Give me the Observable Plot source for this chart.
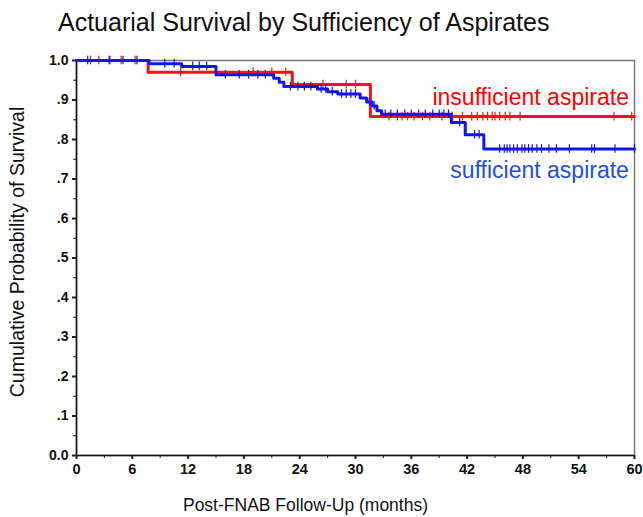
<!DOCTYPE html>
<html>
<head>
<meta charset="utf-8">
<script src="https://cdn.jsdelivr.net/npm/d3@7"></script>
<script src="https://cdn.jsdelivr.net/npm/@observablehq/plot@0.6"></script>
<style>
  body { margin: 0; background: #fff; font-family: "Liberation Sans", Arial, sans-serif; }
  #wrap { position: relative; width: 643px; height: 517px; }
  #title { position: absolute; left: 58px; top: 7px; font-size: 25px; line-height: 30px; color: #111; white-space: nowrap; }
  #chart { position: absolute; left: 0; top: 45px; }
</style>
</head>
<body>
<div id="wrap">
  <div id="title">Actuarial Survival by Sufficiency of Aspirates</div>
  <div id="chart"></div>
</div>
<script>
// Survival step curves (time in months, cumulative probability)
const insuffTimes = [0, 7.7, 23.2, 31.6, 60];
const insuffSurv  = [1.0, 0.970, 0.939, 0.858, 0.858];
const suffTimes = [0, 7.8, 11.3, 15.0, 21.2, 21.8, 22.3, 25.9, 27.0, 28.1, 30.5, 31.2, 31.8, 32.3, 32.8, 40.3, 41.8, 43.8, 60];
const suffSurv  = [1.0, 0.992, 0.985, 0.964, 0.955, 0.945, 0.934, 0.928, 0.921, 0.915, 0.905, 0.895, 0.885, 0.873, 0.864, 0.843, 0.812, 0.776, 0.776];
// Censored observations (months)
const insuffCensor = [1.5, 2.4, 3.6, 4.8, 6.3, 11.2, 15.0, 19.0, 21.0, 22.5, 26.5, 29.0, 30.0, 33.6, 34.5, 35.0, 35.6, 36.3, 37.2, 38.0, 39.3, 40.4, 41.5, 42.5, 43.1, 43.7, 44.2, 44.7, 45.0, 45.5, 46.1, 46.6, 47.7, 57.8, 59.7];
const suffCensor = [1.2, 3.5, 5.0, 6.5, 9.5, 10.5, 12.5, 13.2, 14.0, 16.0, 17.5, 18.5, 19.5, 20.3, 23.0, 23.8, 24.5, 25.2, 26.3, 26.8, 27.5, 28.5, 29.0, 29.5, 30.0, 31.5, 32.0, 33.2, 33.8, 34.5, 35.3, 36.0, 36.8, 37.5, 38.3, 39.0, 39.5, 40.0, 41.2, 42.8, 43.3, 45.5, 46.0, 46.3, 46.6, 47.0, 47.4, 47.9, 48.2, 48.6, 49.0, 49.5, 50.0, 50.8, 51.6, 53.0, 55.4, 55.7, 57.9, 60.0];
const groupNames = ["insufficient aspirate", "sufficient aspirate"];
const xTicks = [0, 6, 12, 18, 24, 30, 36, 42, 48, 54, 60];
const yTicks = [0, 0.1, 0.2, 0.3, 0.4, 0.5, 0.6, 0.7, 0.8, 0.9, 1.0];
const xLabel = "Post-FNAB Follow-Up (months)";
const yLabel = "Cumulative Probability of Survival";

const RED = "#ff1010", BLUE = "#1414f0";

function stepData(times, vals) { return times.map((t, i) => ({t, s: vals[i]})); }
function survAt(times, vals, t) { let v = vals[0]; for (let i = 0; i < times.length; i++) if (times[i] <= t) v = vals[i]; return v; }
function censorData(cs, times, vals) { return cs.map(t => ({t, s: survAt(times, vals, t)})); }

const redLine = stepData(insuffTimes, insuffSurv);
const blueLine = stepData(suffTimes, suffSurv);
const redCens = censorData(insuffCensor, insuffTimes, insuffSurv);
const blueCens = censorData(suffCensor, suffTimes, suffSurv);

const yFmt = d => d === 1 ? "1.0" : d === 0 ? "0.0" : d3.format(".1f")(d).replace(/^0/, "");
const minorX = d3.range(3, 60, 6);
const minorY = d3.range(0.05, 1, 0.1);

const chart = Plot.plot({
  width: 643, height: 472,
  marginLeft: 76, marginRight: 9, marginTop: 15, marginBottom: 62,
  style: { fontFamily: "'Liberation Sans', Arial, sans-serif", background: "white" },
  x: { domain: [0, 60] },
  y: { domain: [0, 1] },
  marks: [
    Plot.frame({ stroke: "#777", strokeWidth: 1.5 }),
    Plot.axisX({ ticks: xTicks, tickSize: 4, tickPadding: 4, fontSize: 14.5, fontWeight: "bold", label: null, stroke: "#222", strokeWidth: 2, color: "#111" }),
    Plot.axisX({ ticks: minorX, tickSize: 3, tickFormat: () => "", label: null, stroke: "#222", strokeWidth: 1 }),
    Plot.axisY({ ticks: yTicks, tickSize: 4, tickPadding: 4, fontSize: 14, fontWeight: "bold", tickFormat: yFmt, label: null, stroke: "#222", strokeWidth: 2, color: "#111" }),
    Plot.axisY({ ticks: minorY, tickSize: 3, tickFormat: () => "", label: null, stroke: "#222", strokeWidth: 1 }),
    Plot.ruleX([0], { stroke: "#111", strokeWidth: 1.5 }),
    Plot.ruleY([0], { stroke: "#111", strokeWidth: 1.5 }),
    Plot.line(redLine, { x: "t", y: "s", curve: "step-after", stroke: RED, strokeWidth: 3 }),
    Plot.ruleX(redCens, { x: "t", y1: d => d.s - 0.011, y2: d => d.s + 0.011, stroke: RED, strokeWidth: 1.2 }),
    Plot.line(blueLine, { x: "t", y: "s", curve: "step-after", stroke: BLUE, strokeWidth: 3 }),
    Plot.ruleX(blueCens, { x: "t", y1: d => d.s - 0.011, y2: d => d.s + 0.011, stroke: BLUE, strokeWidth: 1.2 }),
    Plot.text([groupNames[0]], { x: 59.4, y: 0.906, text: d => d, textAnchor: "end", fill: "#ff0000", fontSize: 23 }),
    Plot.text([groupNames[1]], { x: 59.4, y: 0.722, text: d => d, textAnchor: "end", fill: "#2450d8", fontSize: 23 }),
    Plot.text([xLabel], { frameAnchor: "bottom", text: d => d, dx: -50, dy: 55, fontSize: 17.5, fill: "#111" }),
    Plot.text([yLabel], { frameAnchor: "left", textAnchor: "middle", text: d => d, rotate: -90, dx: -59, dy: -6, fontSize: 19.5, fill: "#111" })
  ]
});
document.getElementById("chart").appendChild(chart);
</script>
</body>
</html>
